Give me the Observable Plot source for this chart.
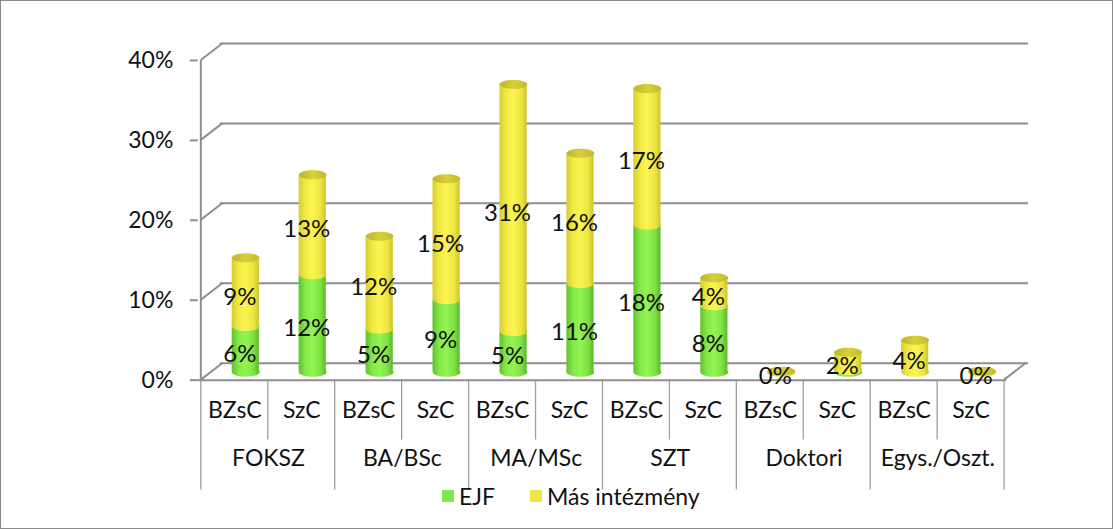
<!DOCTYPE html>
<html><head><meta charset="utf-8">
<script src="https://cdn.jsdelivr.net/npm/d3@7"></script>
<script src="https://cdn.jsdelivr.net/npm/@observablehq/plot@0.6"></script>
<style>
body{margin:0;background:#fff;}
#wrap{position:relative;width:1111px;height:527px;border:1px solid #8a8a8a;font-family:Lato,"Open Sans",sans-serif;background:#fff;}
#chart{position:absolute;left:-1px;top:-1px;}
#legend{position:absolute;top:481px;left:441px;display:flex;align-items:center;font-size:23px;color:#111;white-space:nowrap;}
#legend .it{display:flex;align-items:center;margin-right:35px;}
#legend .sw{width:12px;height:12px;display:inline-block;margin-right:5px;}
</style></head><body>
<div id="wrap"><div id="chart"></div><div id="legend"></div></div>
<script>
// ---- data ----
const groups = ["FOKSZ", "BA/BSc", "MA/MSc", "SZT", "Doktori", "Egys./Oszt."];
const subs = ["BZsC", "SzC"];
const ejf = [5.7, 12.2, 5.4, 9.1, 5.1, 11.1, 18.4, 8.3, 0, 0.2, 0, 0];
const mas = [8.6, 12.5, 11.6, 15.1, 30.9, 16.3, 17.1, 3.5, 0.1, 2.3, 4.0, 0.1];
const yTicks = [0, 10, 20, 30, 40];
const seriesNames = ["EJF", "Más intézmény"];
const seriesColors = ["#7fe84a", "#ede64a"];

// ---- build rows ----
const rows = [];
groups.forEach((g, gi) => subs.forEach((s, si) => {
  const i = gi * subs.length + si;
  rows.push({key: g + "|" + s, group: g, sub: s, first: si === 0, ejf: ejf[i], mas: mas[i], total: ejf[i] + mas[i]});
}));
const keys = rows.map(d => d.key);

const labels = [];
rows.forEach(d => {
  if (d.ejf >= 0.5) labels.push({key: d.key, y: d.ejf / 2, text: Math.round(d.ejf) + "%"});
  labels.push({key: d.key, y: d.ejf + d.mas / 2, text: Math.round(d.mas) + "%"});
});

// ---- layout ----
const W = 1113, H = 492, ML = 198, MR = 106, MT = 60, MB = 112;
const step = (W - ML - MR) / keys.length;
const inset = step * 0.295;
const depthX = 11, depthY = -8;      // bars sit mid-depth
const backX = 22, backY = -17;       // back wall offset
const grid = "#8e8e8e";
const font = "Lato, 'Open Sans', sans-serif";

const rx = step * 0.205, ry = 4.5, k = 0.5523;
const ellipse = {draw(c) {
  c.moveTo(rx, 0);
  c.bezierCurveTo(rx, k * ry, k * rx, ry, 0, ry);
  c.bezierCurveTo(-k * rx, ry, -rx, k * ry, -rx, 0);
  c.bezierCurveTo(-rx, -k * ry, -k * rx, -ry, 0, -ry);
  c.bezierCurveTo(k * rx, -ry, rx, -k * ry, rx, 0);
  c.closePath();
}};

const chart = Plot.plot({
  width: W, height: H, marginLeft: ML, marginRight: MR, marginTop: MT, marginBottom: MB,
  style: {fontFamily: font, fontSize: "21px", color: "#111", background: "transparent", overflow: "visible"},
  x: {domain: keys, padding: 0, axis: null},
  y: {domain: [0, 40]},
  marks: [
    Plot.ruleY(yTicks, {dx: backX, dy: backY, stroke: grid, strokeWidth: 2}),
    Plot.ruleY([0], {stroke: grid, strokeWidth: 2}),
    Plot.axisY(yTicks, {tickFormat: d => d + "%", tickSize: 8, tickPadding: 17, stroke: grid, strokeWidth: 2, fill: "#111", fontSize: 23, label: null}),
    // bottom caps
    Plot.dot(rows.filter(d => d.ejf > 0), {x: "key", y: 0, symbol: ellipse, r: 5, fill: "url(#gG)", stroke: "none", dx: depthX, dy: depthY}),
    Plot.dot(rows.filter(d => d.ejf === 0), {x: "key", y: 0, symbol: ellipse, r: 5, fill: "url(#gY)", stroke: "none", dx: depthX, dy: depthY}),
    // EJF segment
    Plot.barY(rows, {x: "key", y1: 0, y2: "ejf", fill: "url(#gG)", insetLeft: inset, insetRight: inset, dx: depthX, dy: depthY}),
    // boundary curve
    Plot.dot(rows.filter(d => d.ejf > 0), {x: "key", y: "ejf", symbol: ellipse, r: 5, fill: "url(#gY)", stroke: "none", dx: depthX, dy: depthY}),
    // Más segment
    Plot.barY(rows, {x: "key", y1: "ejf", y2: "total", fill: "url(#gY)", insetLeft: inset, insetRight: inset, dx: depthX, dy: depthY}),
    // top caps
    Plot.dot(rows, {x: "key", y: "total", symbol: ellipse, r: 5, fill: "url(#gT)", stroke: "none", dx: depthX, dy: depthY}),
    // value labels
    Plot.text(labels, {x: "key", y: "y", text: "text", fontSize: 24, fill: "#111", dx: 5, dy: -3}),
    // category table labels
    Plot.text(rows, {x: "key", text: "sub", frameAnchor: "bottom", dy: 38, fontSize: 23, fill: "#111"}),
    Plot.text(rows.filter(d => d.first), {x: "key", text: "group", frameAnchor: "bottom", dy: 86, dx: step / 2, fontSize: 23, fill: "#111"})
  ]
});

// gradients for the cylinders
const svg = d3.select(chart);
const defs = svg.insert("defs", ":first-child");
function grad(id, stops) {
  const g = defs.append("linearGradient").attr("id", id).attr("x1", "0").attr("x2", "1").attr("y1", "0").attr("y2", "0");
  stops.forEach(([o, c]) => g.append("stop").attr("offset", o).attr("stop-color", c));
}
grad("gG", [[0, "#5fc22e"], [0.25, "#86e84a"], [0.5, "#93f552"], [0.8, "#7fe043"], [1, "#5cb82b"]]);
grad("gY", [[0, "#d4cd2e"], [0.25, "#f1ea45"], [0.5, "#fbf551"], [0.8, "#ede540"], [1, "#cdc52b"]]);
grad("gT", [[0, "#bdb52c"], [0.5, "#d8d03a"], [1, "#c2ba2e"]]);

// table lines and 3D edges from the scales
const xs = chart.scale("x"), ys = chart.scale("y");
const bw = xs.bandwidth;
const x0 = xs.apply(keys[0]);
const xEnd = xs.apply(keys[keys.length - 1]) + bw;
const y0 = ys.apply(0);
const gL = svg.insert("g", "g").attr("stroke", grid).attr("stroke-width", 2).attr("fill", "none");
const bottomGroup = y0 + 110, bottomSub = y0 + 60;
keys.forEach((kk, i) => {
  const x = xs.apply(kk);
  gL.append("line").attr("x1", x).attr("x2", x).attr("y1", y0).attr("y2", i % subs.length === 0 ? bottomGroup : bottomSub).attr("stroke-width", 1.3).attr("stroke", "#a0a0a0");
});
gL.append("line").attr("x1", xEnd).attr("x2", xEnd).attr("y1", y0).attr("y2", bottomGroup).attr("stroke-width", 1.3).attr("stroke", "#a0a0a0");
gL.append("line").attr("x1", x0).attr("x2", x0).attr("y1", ys.apply(40)).attr("y2", y0);
yTicks.forEach(t => {
  gL.append("line").attr("x1", x0).attr("y1", ys.apply(t)).attr("x2", x0 + backX).attr("y2", ys.apply(t) + backY);
});
gL.append("line").attr("x1", xEnd).attr("y1", y0).attr("x2", xEnd + backX).attr("y2", y0 + backY);

document.getElementById("chart").appendChild(chart);

// legend
const lg = d3.select("#legend");
seriesNames.forEach((n, i) => {
  const it = lg.append("span").attr("class", "it");
  it.append("span").attr("class", "sw").style("background", seriesColors[i]);
  it.append("span").text(n);
});
</script>
</body></html>
